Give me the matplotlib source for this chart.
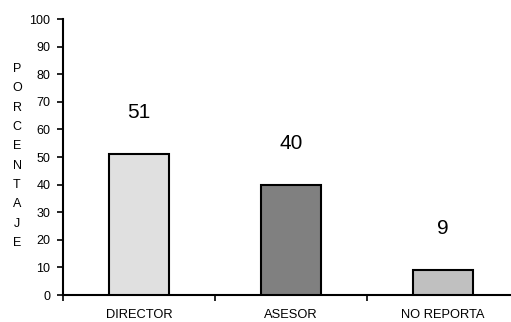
import matplotlib
matplotlib.use("Agg")
import matplotlib.pyplot as plt

plt.rcParams['font.family'] = ['Liberation Sans', 'DejaVu Sans']

categories = ['DIRECTOR', 'ASESOR', 'NO REPORTA']
values = [51, 40, 9]
colors = ['#e0e0e0', '#808080', '#c0c0c0']

W, H = 511, 322
fig = plt.figure(figsize=(W / 100, H / 100), dpi=100)
ax = fig.add_axes([63 / W, (H - 295) / H, (519 - 63) / W, (295 - 19) / H])

x = list(range(len(categories)))
ax.bar(x, values, width=0.4, color=colors, edgecolor='black', linewidth=1.5, zorder=3)

for xi, v in zip(x, values):
    ax.text(xi, v + 15, str(v), ha='center', va='center', fontsize=15)

ax.set_xlim(-0.5, 2.5)
ax.set_ylim(0, 100)
ax.set_yticks(range(0, 101, 10))
ax.tick_params(axis='y', labelsize=9, length=4, width=1.2, pad=5)

# category boundary ticks, labels in the middle
ax.set_xticks([-0.5, 0.5, 1.5, 2.5])
ax.set_xticklabels([])
ax.set_xticks(x, minor=True)
ax.set_xticklabels(categories, minor=True)
ax.tick_params(axis='x', which='major', length=4, width=1.2)
ax.tick_params(axis='x', which='minor', length=0, labelsize=9.3, pad=10)

for s in ['top', 'right']:
    ax.spines[s].set_visible(False)
for s in ['left', 'bottom']:
    ax.spines[s].set_linewidth(1.5)

fig.text(17 / W, 1 - 156 / H, '\n'.join('PORCENTAJE'), ha='center', va='center',
         fontsize=9, linespacing=1.82)

fig.savefig('out.png', dpi=100)
